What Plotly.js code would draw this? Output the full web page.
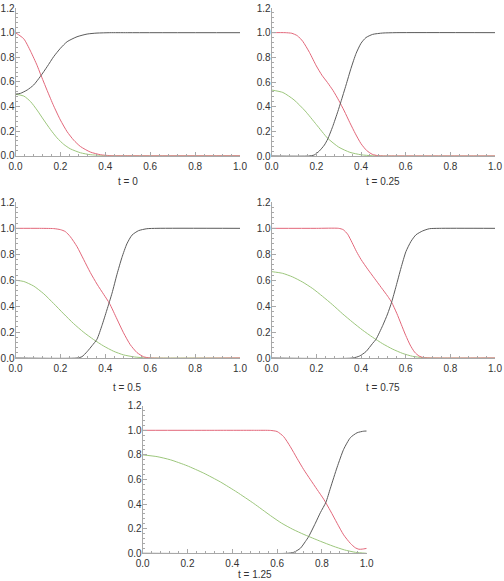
<!DOCTYPE html>
<html>
<head>
<meta charset="utf-8">
<script src="https://cdn.plot.ly/plotly-3.0.1.min.js"></script>
<style>html,body{margin:0;padding:0;background:#fff;}#chart{width:504px;height:581px;}</style>
</head>
<body>
<div id="chart"></div>
<script>
// Panel titles
const panelTitles = ["t = 0", "t = 0.25", "t = 0.5", "t = 0.75", "t = 1.25"];

// t = 0
const red0x = [0, 0.037, 0.067, 0.096, 0.111, 0.141, 0.17, 0.2, 0.23, 0.259, 0.289, 0.333, 0.378, 0.42, 0.5, 1.0];
const red0y = [1.0, 0.95, 0.85, 0.735, 0.665, 0.53, 0.405, 0.29, 0.195, 0.127, 0.075, 0.03, 0.008, 0.001, 0, 0];
const green0x = [0, 0.037, 0.067, 0.096, 0.126, 0.156, 0.185, 0.215, 0.244, 0.289, 0.333, 0.378, 0.45, 1.0];
const green0y = [0.5, 0.485, 0.44, 0.371, 0.29, 0.212, 0.145, 0.092, 0.056, 0.024, 0.008, 0.002, 0, 0];
const black0x = [0, 0.022, 0.052, 0.081, 0.111, 0.141, 0.17, 0.2, 0.23, 0.274, 0.319, 0.363, 0.42, 0.5, 1.0];
const black0y = [0.5, 0.507, 0.534, 0.575, 0.645, 0.724, 0.805, 0.873, 0.927, 0.967, 0.989, 0.997, 1.0, 1.0, 1.0];

// t = 0.25
const red1x = [0, 0.06, 0.09, 0.115, 0.139, 0.169, 0.2, 0.225, 0.25, 0.275, 0.3, 0.325, 0.35, 0.375, 0.4, 0.425, 0.45, 0.475, 0.5, 0.55, 1.0];
const red1y = [1.0, 1.0, 0.995, 0.975, 0.93, 0.84, 0.73, 0.655, 0.595, 0.53, 0.452, 0.365, 0.27, 0.18, 0.1, 0.045, 0.014, 0.003, 0, 0, 0];
const green1x = [0, 0.05, 0.1, 0.15, 0.2, 0.25, 0.3, 0.35, 0.4, 0.45, 0.5, 1.0];
const green1y = [0.535, 0.515, 0.455, 0.365, 0.255, 0.145, 0.072, 0.03, 0.01, 0.002, 0, 0];
const black1x = [0, 0.165, 0.19, 0.213, 0.236, 0.251, 0.273, 0.296, 0.31, 0.333, 0.355, 0.378, 0.4, 0.422, 0.452, 0.497, 0.557, 1.0];
const black1y = [0, 0, 0.008, 0.04, 0.089, 0.138, 0.238, 0.36, 0.44, 0.576, 0.71, 0.832, 0.914, 0.96, 0.986, 0.997, 1.0, 1.0];

// t = 0.5
const red2x = [0, 0.1, 0.17, 0.2, 0.222, 0.244, 0.274, 0.304, 0.333, 0.363, 0.393, 0.419, 0.452, 0.481, 0.511, 0.541, 0.57, 0.6, 1.0];
const red2y = [1.0, 1.0, 0.998, 0.99, 0.975, 0.936, 0.859, 0.758, 0.66, 0.57, 0.49, 0.42, 0.3, 0.195, 0.103, 0.042, 0.01, 0, 0];
const green2x = [0, 0.037, 0.081, 0.126, 0.17, 0.215, 0.259, 0.304, 0.348, 0.393, 0.437, 0.481, 0.53, 0.58, 0.62, 1.0];
const green2y = [0.6, 0.59, 0.555, 0.495, 0.42, 0.34, 0.265, 0.198, 0.142, 0.092, 0.052, 0.024, 0.008, 0.001, 0, 0];
const black2x = [0, 0.274, 0.296, 0.319, 0.341, 0.363, 0.385, 0.407, 0.43, 0.452, 0.474, 0.496, 0.519, 0.548, 0.585, 0.63, 1.0];
const black2y = [0, 0, 0.01, 0.049, 0.095, 0.145, 0.25, 0.37, 0.5, 0.645, 0.775, 0.88, 0.948, 0.982, 0.997, 1.0, 1.0];

// t = 0.75
const red3x = [0, 0.2, 0.3, 0.32, 0.34, 0.36, 0.38, 0.4, 0.43, 0.46, 0.49, 0.52, 0.537, 0.56, 0.58, 0.6, 0.62, 0.64, 0.66, 0.68, 0.7, 1.0];
const red3y = [1.0, 1.0, 1.0, 0.99, 0.955, 0.89, 0.82, 0.76, 0.685, 0.615, 0.545, 0.475, 0.43, 0.345, 0.26, 0.175, 0.1, 0.045, 0.015, 0.003, 0, 0];
const green3x = [0, 0.049, 0.094, 0.139, 0.184, 0.228, 0.273, 0.318, 0.363, 0.407, 0.452, 0.497, 0.542, 0.587, 0.631, 0.676, 0.72, 1.0];
const green3y = [0.666, 0.653, 0.625, 0.585, 0.535, 0.475, 0.41, 0.34, 0.275, 0.215, 0.16, 0.11, 0.068, 0.035, 0.013, 0.003, 0, 0];
const black3x = [0, 0.363, 0.393, 0.422, 0.452, 0.467, 0.497, 0.519, 0.537, 0.557, 0.579, 0.601, 0.624, 0.646, 0.676, 0.706, 0.75, 1.0];
const black3y = [0, 0, 0.015, 0.049, 0.113, 0.144, 0.25, 0.34, 0.43, 0.553, 0.694, 0.82, 0.9, 0.95, 0.98, 0.997, 1.0, 1.0];

// t = 1.25
const red4x = [0, 0.3, 0.5, 0.57, 0.6, 0.629, 0.659, 0.689, 0.719, 0.749, 0.778, 0.808, 0.838, 0.868, 0.897, 0.927, 0.949, 0.965, 0.98, 1.0];
const red4y = [1.0, 1.0, 1.0, 0.999, 0.99, 0.949, 0.867, 0.772, 0.68, 0.598, 0.52, 0.44, 0.345, 0.244, 0.15, 0.081, 0.045, 0.033, 0.034, 0.04];
const green4x = [0, 0.064, 0.124, 0.198, 0.272, 0.347, 0.421, 0.496, 0.57, 0.62, 0.67, 0.72, 0.741, 0.793, 0.85, 0.9, 0.95, 1.0];
const green4y = [0.8, 0.786, 0.76, 0.712, 0.652, 0.58, 0.497, 0.405, 0.307, 0.245, 0.195, 0.153, 0.137, 0.098, 0.058, 0.028, 0.008, 0];
const black4x = [0, 0.644, 0.674, 0.704, 0.726, 0.741, 0.771, 0.793, 0.818, 0.838, 0.868, 0.897, 0.927, 0.957, 0.987, 1.0];
const black4y = [0, 0, 0.008, 0.041, 0.095, 0.136, 0.245, 0.33, 0.415, 0.53, 0.7, 0.845, 0.94, 0.98, 0.993, 0.994];

// x / y ticks
const tickVals = [0, 0.2, 0.4, 0.6, 0.8, 1.0];
const tickText = ["0.0", "0.2", "0.4", "0.6", "0.8", "1.0"];
const yTickVals = [0, 0.2, 0.4, 0.6, 0.8, 1.0, 1.2];
const yTickText = ["0.0", "0.2", "0.4", "0.6", "0.8", "1.0", "1.2"];
const minorX = [0.04,0.08,0.12,0.16,0.24,0.28,0.32,0.36,0.44,0.48,0.52,0.56,0.64,0.68,0.72,0.76,0.84,0.88,0.92,0.96];
const minorY = [0.04,0.08,0.12,0.16,0.24,0.28,0.32,0.36,0.44,0.48,0.52,0.56,0.64,0.68,0.72,0.76,0.84,0.88,0.92,0.96,1.04,1.08,1.12,1.16];

const panels = [
  {r:[red0x,red0y], g:[green0x,green0y], k:[black0x,black0y]},
  {r:[red1x,red1y], g:[green1x,green1y], k:[black1x,black1y]},
  {r:[red2x,red2y], g:[green2x,green2y], k:[black2x,black2y]},
  {r:[red3x,red3y], g:[green3x,green3y], k:[black3x,black3y]},
  {r:[red4x,red4y], g:[green4x,green4y], k:[black4x,black4y]}
];

const W = 504, H = 581;
// pixel boxes [x0, x1, yBottom(0), yTop(1.2)]
const boxes = [
  [15.5, 240, 155.7, 8.1],
  [271.7, 495, 156, 8.0],
  [15.5, 240, 358, 202.4],
  [271.7, 495, 358, 202.4],
  [142.7, 366.7, 553.3, 405.7]
];
const titlePos = [[127.5, 181], [383.3, 181], [127.5, 387], [383.3, 387], [254.7, 574.5]];

const colRed = '#e2677a', colGreen = '#9cc67c', colBlack = '#5a5a5a';
const fontFam = '"Liberation Sans", Arial, sans-serif';
const traces = [];
const layout = {
  width: W, height: H,
  margin: {l:0, r:0, t:0, b:0},
  paper_bgcolor: '#fff', plot_bgcolor: '#fff',
  showlegend: false,
  font: {family: fontFam, size: 10, color: '#333'},
  annotations: []
};

panels.forEach((p, i) => {
  const ax = i === 0 ? '' : String(i + 1);
  const xa = 'x' + ax, ya = 'y' + ax;
  const series = [[p.g, colGreen], [p.r, colRed], [p.k, colBlack]];
  series.forEach(([d, c]) => {
    traces.push({x: d[0], y: d[1], xaxis: xa, yaxis: ya, type: 'scatter', mode: 'lines',
      line: {color: c, width: 1, shape: 'spline', smoothing: 0.6}, hoverinfo: 'skip'});
  });
  const b = boxes[i];
  const common = {
    showgrid: false, zeroline: false, showline: true, linecolor: '#a8a8a8', linewidth: 1,
    ticks: 'inside', ticklen: 4, tickcolor: '#a8a8a8', tickwidth: 1,
    tickfont: {size: 10, color: '#333', family: fontFam},
    fixedrange: true
  };
  layout['xaxis' + ax] = Object.assign({}, common, {
    domain: [b[0] / W, b[1] / W], range: [0, 1.0], anchor: ya,
    tickvals: tickVals, ticktext: tickText, ticklabelstandoff: 1,
    minor: {ticks: 'inside', ticklen: 2, tickcolor: '#a8a8a8', tickvals: minorX, showgrid: false}
  });
  layout['yaxis' + ax] = Object.assign({}, common, {
    domain: [1 - b[2] / H, 1 - b[3] / H], range: [0, 1.2], anchor: xa,
    tickvals: yTickVals, ticktext: yTickText, ticklabelstandoff: -2,
    minor: {ticks: 'inside', ticklen: 2, tickcolor: '#a8a8a8', tickvals: minorY, showgrid: false}
  });
  const tp = titlePos[i];
  layout.annotations.push({text: panelTitles[i], xref: 'paper', yref: 'paper',
    x: tp[0] / W, y: 1 - tp[1] / H, xanchor: 'center', yanchor: 'middle', showarrow: false,
    font: {size: 10, color: '#333', family: fontFam}});
});

Plotly.newPlot('chart', traces, layout, {staticPlot: true, displayModeBar: false});
</script>
</body>
</html>
